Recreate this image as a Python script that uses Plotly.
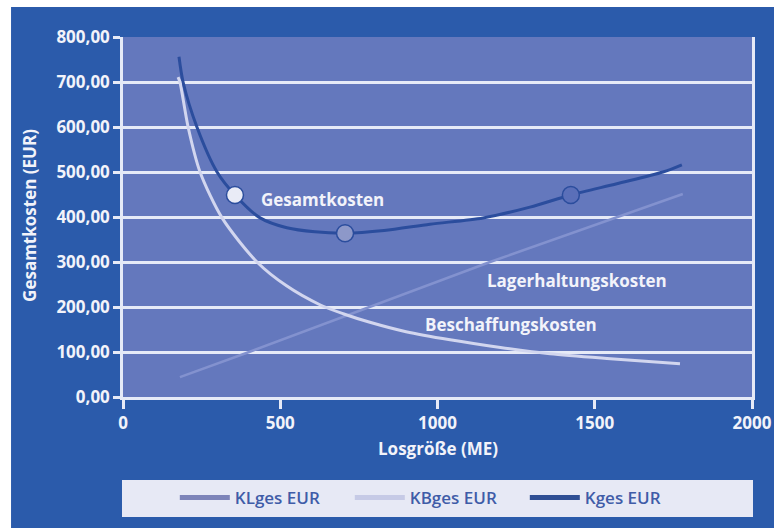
import plotly.graph_objects as go

# Lot size (ME) and costs (EUR) for the three cost curves
kl_x = [181, 401, 1167, 1574, 1780]
kl_y = [44, 100, 300, 400, 451]

kb_x = [175, 181, 207, 245, 315, 426, 520, 626, 700, 785, 900, 1040, 1200, 1358, 1550, 1771]
kb_y = [711, 700, 600, 500, 398, 300, 247, 205, 185, 166, 145, 127, 110, 96, 85, 74]

k_x = [178, 191, 235, 299, 356, 436, 521, 610, 706, 830, 976, 1145, 1294, 1424, 1570, 1717, 1777]
k_y = [756, 700, 600, 500, 449, 398, 376, 367, 364, 370, 384, 398, 422, 449, 474, 500, 516]

# Highlighted points on the total cost curve
pt_x = [356, 706, 1424]
pt_y = [449, 364, 449]

y_ticks = [0, 100, 200, 300, 400, 500, 600, 700, 800]
x_ticks = [0, 500, 1000, 1500, 2000]

series_names = ["KLges EUR", "KBges EUR", "Kges EUR"]

OUTER = "#2b5bab"
PLOT_BG = "#6478bd"
GRID = "#e6eaf7"
DARK = "#2b4d9d"
LIGHT = "#d2d6ef"
MID = "#8392cf"
TEXT = "#f2f3fa"
FONT = "Open Sans"

fig = go.Figure()

fig.add_trace(go.Scatter(x=kl_x, y=kl_y, mode="lines", name=series_names[0], showlegend=False,
                         line=dict(color=MID, width=2.5)))
fig.add_trace(go.Scatter(x=kb_x, y=kb_y, mode="lines", name=series_names[1], showlegend=False,
                         line=dict(color=LIGHT, width=3, shape="spline", smoothing=0.8)))
fig.add_trace(go.Scatter(x=k_x, y=k_y, mode="lines", name=series_names[2], showlegend=False,
                         line=dict(color=DARK, width=3, shape="spline", smoothing=0.8)))
fig.add_trace(go.Scatter(x=pt_x, y=pt_y, mode="markers", showlegend=False,
                         marker=dict(size=17, color=["#e9ebf6", "#8d98c9", "#5a6fb9"],
                                     line=dict(color=DARK, width=1.5))))

# Legend entries with thicker swatches
legend_colors = ["#7d84b9", "#c6cae6", "#2f4f94"]
for name, col in zip(series_names, legend_colors):
    fig.add_trace(go.Scatter(x=[None], y=[None], mode="lines", name=name,
                             line=dict(color=col, width=5)))

shapes = [
    # dark blue panel behind everything
    dict(type="rect", xref="paper", yref="paper", x0=-0.178, x1=1.05, y0=-0.37, y1=1.0833,
         fillcolor=OUTER, line=dict(width=0), layer="below"),
    # plot area
    dict(type="rect", xref="paper", yref="paper", x0=0, x1=1, y0=0, y1=1,
         fillcolor=PLOT_BG, line=dict(width=0), layer="below"),
    # legend panel
    dict(type="rect", xref="paper", yref="paper", x0=-0.0016, x1=1.0016, y0=-0.333, y1=-0.2306,
         fillcolor="#e7e9f5", line=dict(width=0), layer="below"),
]

label_font = dict(family=FONT, size=17, color=TEXT, weight=700)
annotations = [
    dict(text="Gesamtkosten", x=633, y=438, xref="x", yref="y", showarrow=False, font=label_font),
    dict(text="Lagerhaltungskosten", x=1443, y=258, xref="x", yref="y", showarrow=False, font=label_font),
    dict(text="Beschaffungskosten", x=1234, y=162, xref="x", yref="y", showarrow=False, font=label_font),
    dict(text="Gesamtkosten (EUR)", x=-0.148, y=0.5056, xref="paper", yref="paper",
         xanchor="center", yanchor="middle",
         showarrow=False, textangle=-90, font=label_font),
    dict(text="Losgröße (ME)", x=0.5, y=-0.1417, xref="paper", yref="paper",
         xanchor="center", yanchor="middle",
         showarrow=False, font=label_font),
]

fig.update_layout(
    width=774, height=528,
    margin=dict(l=123, r=22, t=37, b=131, autoexpand=False),
    paper_bgcolor="white",
    plot_bgcolor="rgba(0,0,0,0)",
    separators=",.",
    shapes=shapes,
    annotations=annotations,
    showlegend=True,
    legend=dict(orientation="h", xref="container", yref="container",
                x=0.565, xanchor="center", y=0.0568, yanchor="middle",
                bgcolor="rgba(0,0,0,0)", entrywidth=110, itemwidth=50,
                font=dict(family=FONT, size=17, color="#3f5ca8", weight=600)),
)

fig.update_xaxes(
    range=[0, 2000], tickvals=x_ticks, ticktext=[str(v) for v in x_ticks],
    automargin=False,
    showgrid=False, zeroline=False, showline=True, linecolor=GRID, linewidth=2.5,
    ticks="outside", ticklen=9, tickwidth=2.5, tickcolor=GRID,
    tickfont=dict(family=FONT, size=17, color=TEXT, weight=700),
)
fig.update_yaxes(
    range=[0, 800], tickvals=y_ticks, tickformat=".2f",
    automargin=False,
    showgrid=True, gridcolor=GRID, gridwidth=2.5, zeroline=False,
    showline=True, mirror=True, linecolor=GRID, linewidth=2.5,
    ticks="outside", ticklen=7, tickwidth=2.5, tickcolor=GRID,
    tickfont=dict(family=FONT, size=17, color=TEXT, weight=700),
)

fig.write_html("out.html")
